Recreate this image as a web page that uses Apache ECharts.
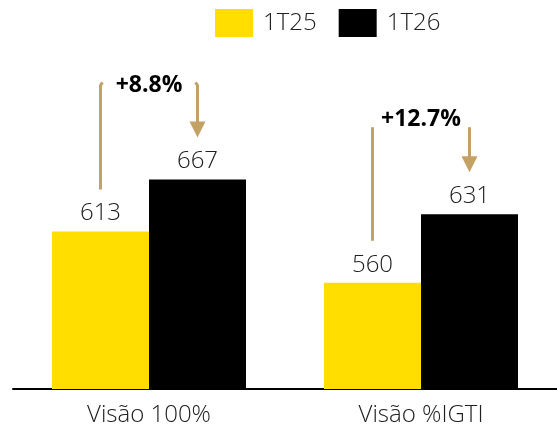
<!DOCTYPE html>
<html>
<head>
<meta charset="utf-8">
<script src="https://cdn.jsdelivr.net/npm/echarts@6/dist/echarts.min.js"></script>
<style>
html,body{margin:0;padding:0;background:#fff;}
#chart{width:557px;height:427px;}
</style>
</head>
<body>
<div id="chart"></div>
<script>
const categories = ["Visão 100%", "Visão %IGTI"];
const seriesNames = ["1T25", "1T26"];
const values1T25 = [613, 560];
const values1T26 = [667, 631];
const changeLabels = ["+8.8%", "+12.7%"];

const FONT = "Open Sans";
const TXT = "#202020";
const GOLD = "#C4A265";

const chart = echarts.init(document.getElementById('chart'), null, {renderer: 'canvas'});
const labelStyle = {show: true, position: 'top', distance: 6, fontFamily: FONT, fontSize: 24, fontWeight: 300, color: TXT};
chart.setOption({
  animation: false,
  backgroundColor: '#ffffff',
  legend: {
    left: 210, top: 4,
    itemWidth: 38, itemHeight: 28, itemGap: 22,
    icon: 'rect',
    textStyle: {fontFamily: FONT, fontSize: 24, fontWeight: 300, color: TXT, padding: [0,0,0,5]},
    data: seriesNames
  },
  grid: {left: 13, right: 0, top: 51, bottom: 38, containLabel: false},
  xAxis: {
    type: 'category', data: categories,
    axisLine: {show: true, lineStyle: {color: '#000', width: 2}},
    axisTick: {show: false},
    axisLabel: {fontFamily: FONT, fontSize: 24, fontWeight: 300, color: TXT, margin: 14}
  },
  yAxis: {type: 'value', min: 450, max: 800, show: false, splitLine: {show: false}},
  series: [
    {name: seriesNames[0], type: 'bar', data: values1T25, barWidth: 97, barGap: '0%',
     itemStyle: {color: '#FFDE00'}, label: labelStyle},
    {name: seriesNames[1], type: 'bar', data: values1T26, barWidth: 97, barGap: '0%',
     itemStyle: {color: '#000000'}, label: labelStyle}
  ]
});

// annotation layout: label offset above the taller bar, line-top offset relative to label
const annot = [
  {labelAbove: 94, topDy: -3, hook: 2},
  {labelAbove: 95, topDy: 8, hook: 0}
];
const GAP = 42;      // gap between annotation end and bar top
const HEAD = 16;     // arrowhead length
const g = [];
categories.forEach((c, i) => {
  const a = annot[i];
  const cx = chart.convertToPixel({xAxisIndex: 0}, c);
  const halfBar = 97 / 2;
  const lx = cx - halfBar, ax = cx + halfBar;
  const yA = chart.convertToPixel({yAxisIndex: 0}, values1T25[i]) - GAP;
  const yB = chart.convertToPixel({yAxisIndex: 0}, values1T26[i]) - GAP;
  const labelY = chart.convertToPixel({yAxisIndex: 0}, Math.max(values1T25[i], values1T26[i])) - a.labelAbove;
  const topY = labelY + a.topDy;
  g.push({type: 'polyline', shape: {points: [[lx + a.hook, topY], [lx, topY + a.hook * 1.5], [lx, yA]]},
    style: {stroke: GOLD, lineWidth: 3, fill: null}});
  g.push({type: 'polyline', shape: {points: [[ax - a.hook, topY], [ax, topY + a.hook * 1.5], [ax, yB - HEAD + 1]]},
    style: {stroke: GOLD, lineWidth: 3, fill: null}});
  g.push({type: 'polygon', shape: {points: [[ax - 8, yB - HEAD], [ax + 8, yB - HEAD], [ax, yB]]},
    style: {fill: GOLD}});
  g.push({type: 'text', x: cx, y: labelY,
    style: {text: changeLabels[i], font: 'bold 23px "Open Sans"', fill: '#000',
      align: 'center', verticalAlign: 'middle'}});
});
chart.setOption({graphic: g});
</script>
</body>
</html>
